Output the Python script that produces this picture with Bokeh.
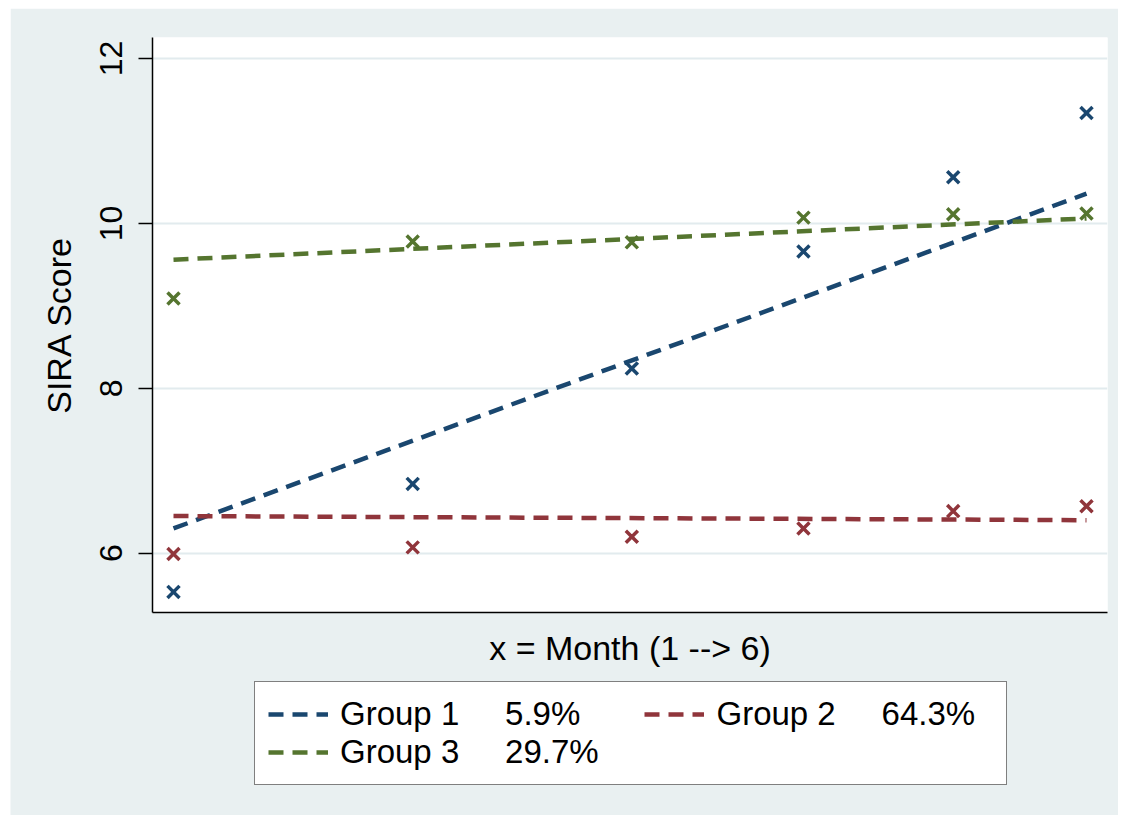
from bokeh.plotting import figure
from bokeh.models import Range1d, FixedTicker, Legend, LegendItem
from bokeh.embed import file_html
from bokeh.resources import INLINE

# ---- data ----
month = [1.0, 2.31, 3.51, 4.45, 5.27, 6.0]
group1 = [5.53, 6.84, 8.24, 9.66, 10.56, 11.34]
group2 = [5.99, 6.07, 6.20, 6.30, 6.51, 6.57]
group3 = [9.09, 9.78, 9.77, 10.07, 10.11, 10.12]
# fitted (linear) trend values at first and last month
fit_x = [1.0, 6.0]
fit1 = [6.30, 10.36]
fit2 = [6.45, 6.40]
fit3 = [9.56, 10.06]
labels = ["Group 1", "Group 2", "Group 3"]
shares = ["5.9%", "64.3%", "29.7%"]
y_ticks = [6, 8, 10, 12]

NAVY = "#1a476f"
MAROON = "#90353b"
GREEN = "#55752f"
BG = "#E9F0F1"
FONT = "Liberation Sans"
TICK_FS = "32px"
TITLE_FS = "34px"
LEG_FS = "33px"
DASH = "15 9"
LW = 4.5

# ---------------- main plot ----------------
p = figure(width=1108, height=664,
           x_range=Range1d(0.885, 6.115), y_range=Range1d(5.28, 12.255),
           output_backend="svg", toolbar_location=None,
           min_border_left=142, min_border_right=11,
           min_border_top=29, min_border_bottom=60)
p.margin = (8, 0, 0, 10)
p.background_fill_color = "white"
p.border_fill_color = BG
p.outline_line_color = None

p.xgrid.visible = False
p.ygrid.grid_line_color = "#E2EBEE"
p.ygrid.grid_line_width = 2

p.yaxis.ticker = FixedTicker(ticks=y_ticks)
p.yaxis.minor_tick_line_color = None
p.yaxis.major_tick_out = 14
p.yaxis.major_tick_in = 0
p.yaxis.major_tick_line_width = 1.5
p.yaxis.major_tick_line_color = "black"
p.yaxis.axis_line_color = "black"
p.yaxis.axis_line_width = 1.5
p.yaxis.major_label_orientation = "vertical"
p.yaxis.major_label_standoff = 16
p.yaxis.major_label_text_font = FONT
p.yaxis.major_label_text_font_size = TICK_FS
p.yaxis.major_label_text_color = "black"
p.yaxis.axis_label = "SIRA Score"
p.yaxis.axis_label_text_font = FONT
p.yaxis.axis_label_text_font_size = TITLE_FS
p.yaxis.axis_label_text_font_style = "normal"
p.yaxis.axis_label_text_color = "black"
p.yaxis.axis_label_standoff = 20

p.xaxis.ticker = FixedTicker(ticks=[])
p.xaxis.major_tick_line_color = None
p.xaxis.minor_tick_line_color = None
p.xaxis.axis_line_color = "black"
p.xaxis.axis_line_width = 1.5
p.xaxis.axis_label = "x = Month (1 --> 6)"
p.xaxis.axis_label_text_font = FONT
p.xaxis.axis_label_text_font_size = TITLE_FS
p.xaxis.axis_label_text_font_style = "normal"
p.xaxis.axis_label_text_color = "black"
p.xaxis.axis_label_standoff = 16

p.line(fit_x, fit1, line_color=NAVY, line_width=LW, line_dash=DASH)
p.line(fit_x, fit2, line_color=MAROON, line_width=LW, line_dash=DASH)
p.line(fit_x, fit3, line_color=GREEN, line_width=LW, line_dash=DASH)

p.scatter(month, group1, marker="x", size=17, line_width=3.5, line_color=NAVY)
p.scatter(month, group2, marker="x", size=17, line_width=3.5, line_color=MAROON)
p.scatter(month, group3, marker="x", size=17, line_width=3.5, line_color=GREEN)

# ---------------- legend strip (separate root, same background) ----------------
# its ranges keep the key lines themselves out of view; only the legend shows
q = figure(width=1108, height=145, output_backend="svg", toolbar_location=None,
           x_range=Range1d(-20, -10), y_range=Range1d(-20, -10),
           min_border=0, x_axis_location=None, y_axis_location=None)
q.margin = (-2, 0, 0, 10)
q.background_fill_color = BG
q.border_fill_color = BG
q.outline_line_color = None
q.grid.visible = False

k1 = q.line(fit_x, fit1, line_color=NAVY, line_width=LW, line_dash=DASH)
k2 = q.line(fit_x, fit2, line_color=MAROON, line_width=LW, line_dash=DASH)
k3 = q.line(fit_x, fit3, line_color=GREEN, line_width=LW, line_dash=DASH)

NB = "\u00a0"
lab1 = labels[0] + NB * 5 + shares[0] + NB * 7
lab2 = labels[1] + NB * 5 + shares[1] + NB * 2
lab3 = labels[2] + NB * 5 + shares[2] + NB * 4

legend = Legend(items=[LegendItem(label=lab1, renderers=[k1]),
                       LegendItem(label=lab2, renderers=[k2]),
                       LegendItem(label=lab3, renderers=[k3])],
                orientation="horizontal", ncols=2, location=(244, 30))
legend.label_text_font = FONT
legend.label_text_font_size = LEG_FS
legend.label_text_color = "black"
legend.glyph_width = 60
legend.glyph_height = 30
legend.label_height = 30
legend.label_standoff = 12
legend.spacing = 0
legend.padding = 13
legend.margin = 0
legend.border_line_color = "black"
legend.border_line_width = 1.5
legend.background_fill_color = "white"
legend.background_fill_alpha = 1.0
q.add_layout(legend, "center")

open("out.html", "w").write(file_html([p, q], INLINE))
